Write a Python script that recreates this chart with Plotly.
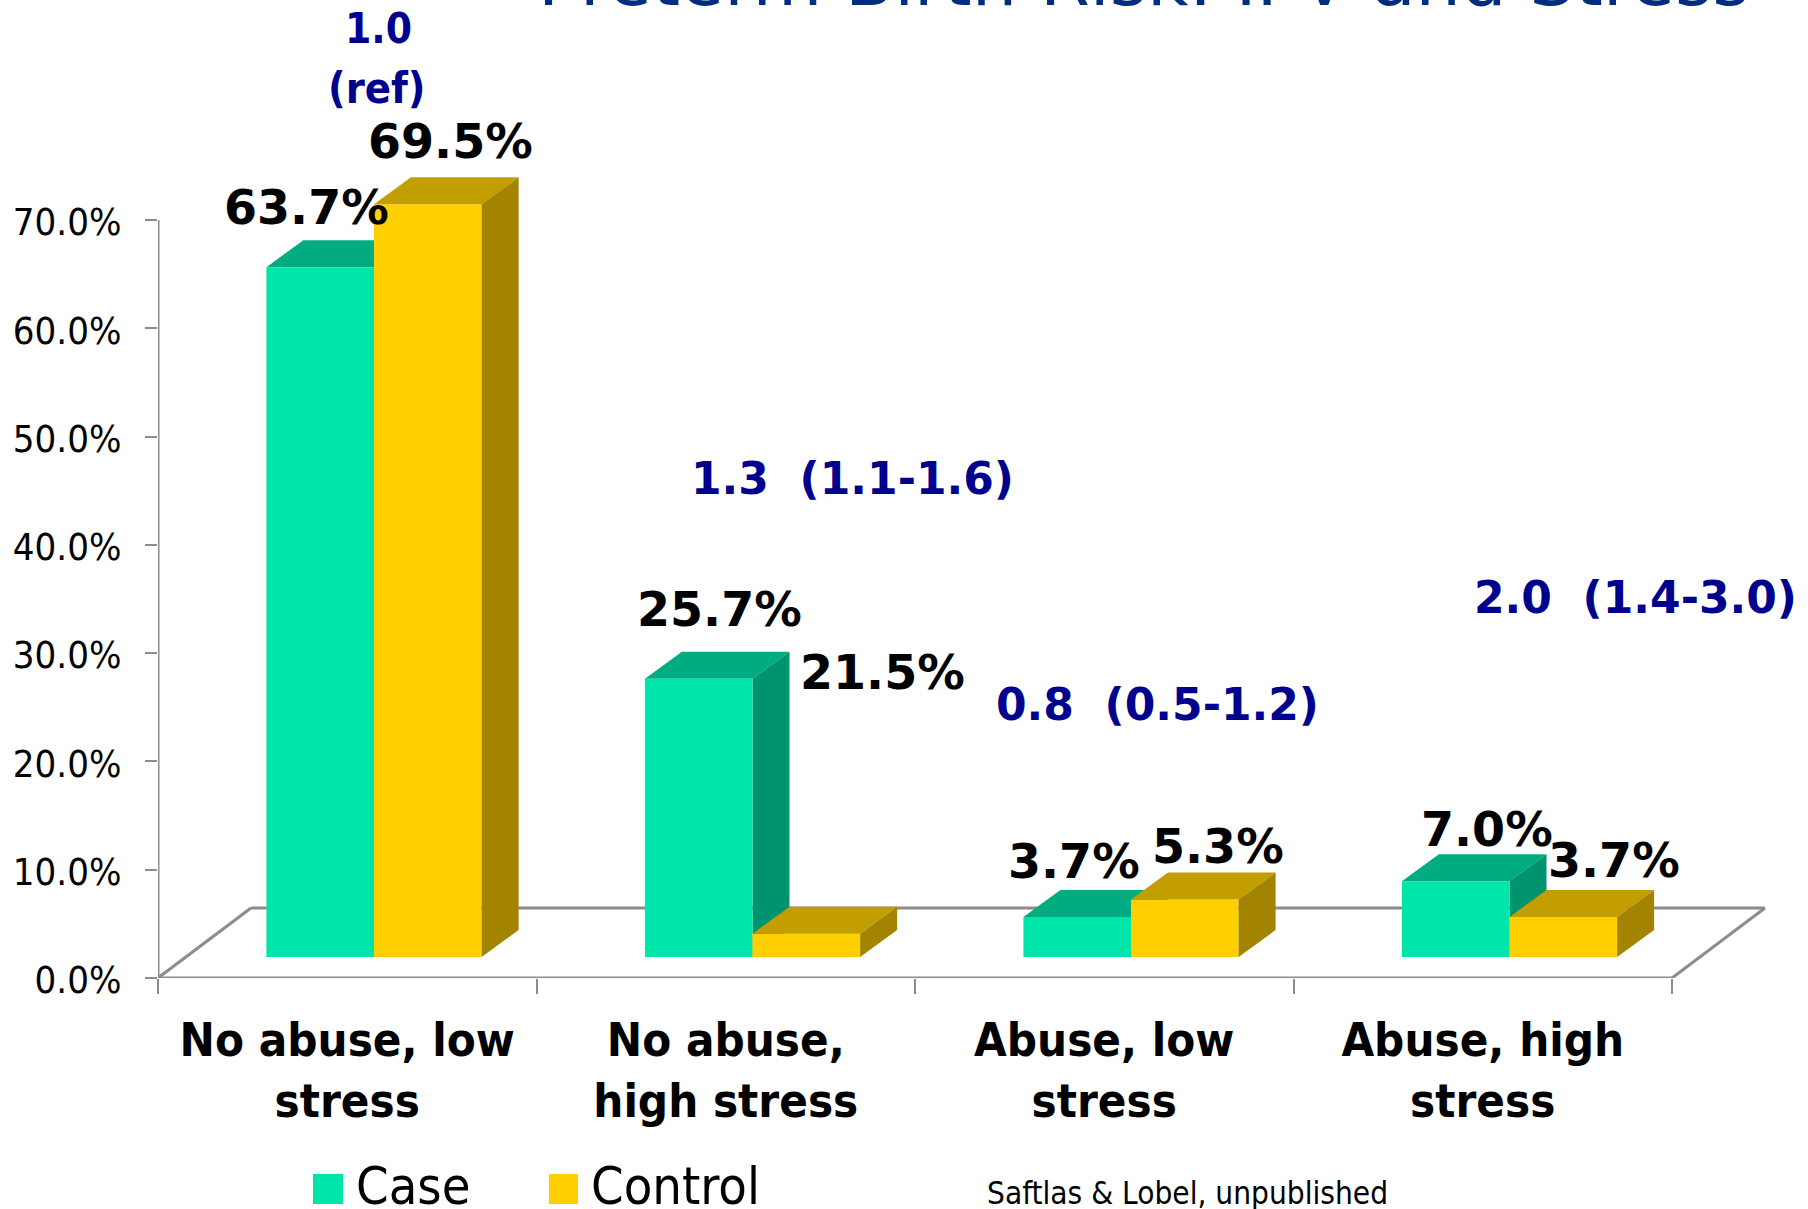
import plotly.graph_objects as go

# ---- data ----
categories = ["<b>No abuse, low</b><br><b>stress</b>", "<b>No abuse,</b><br><b>high stress</b>",
              "<b>Abuse, low</b><br><b>stress</b>", "<b>Abuse, high</b><br><b>stress</b>"]
case_values = [63.7, 25.7, 3.7, 7.0]
control_values = [69.5, 2.15, 5.3, 3.7]
case_labels = ["63.7%", "25.7%", "3.7%", "7.0%"]
control_labels = ["69.5%", "21.5%", "5.3%", "3.7%"]
risk_labels = ["1.0", "(ref)", "1.3  (1.1-1.6)", "0.8  (0.5-1.2)", "2.0  (1.4-3.0)"]
y_ticks = [0, 10, 20, 30, 40, 50, 60, 70]
y_ticktext = ["0.0%", "10.0%", "20.0%", "30.0%", "40.0%", "50.0%", "60.0%", "70.0%"]
title_text = "Preterm Birth Risk: IPV and Stress"
source_text = "Saftlas &amp; Lobel, unpublished"

# ---- geometry of the drawing (pixels of the page) ----
W, H = 1808, 1209
X0, Y0 = 158, 978          # origin of the axes on the page
PX_PER_CAT = 378.5         # one category along x
PX_PER_PCT = 10.83         # one percent along y


def px(p):
    return (p - X0) / (W - X0)


def py(p):
    return (Y0 - p) / Y0


BAR_W = 107.6 / PX_PER_CAT
CASE_OFF = (266.4 - X0) / PX_PER_CAT
CTRL_OFF = CASE_OFF + BAR_W
BASE = 21 / PX_PER_PCT      # bars stand on the floor, in front of the back wall
DEPTH_X = 37 / PX_PER_CAT
DEPTH_Y = 27 / PX_PER_PCT
FLOOR_X = 93 / PX_PER_CAT
FLOOR_Y = 70 / PX_PER_PCT

CASE_FRONT, CASE_TOP, CASE_SIDE = "#00E6AA", "#00AC80", "#00946E"
CTRL_FRONT, CTRL_TOP, CTRL_SIDE = "#FFCF00", "#C29E00", "#A38400"
GRAY = "#8C8C8C"
BLUE = "#00008F"
TITLE_BLUE = "#002D7F"
FONT = "DejaVu Sans"
COND = "DejaVu Sans Condensed"

fig = go.Figure()
pos = list(range(len(categories)))
fig.add_trace(go.Bar(name="Case", x=[i + CASE_OFF + BAR_W / 2 for i in pos], y=case_values,
                     base=BASE, width=BAR_W, marker=dict(color=CASE_FRONT, line=dict(width=0)), showlegend=False))
fig.add_trace(go.Bar(name="Control", x=[i + CTRL_OFF + BAR_W / 2 for i in pos], y=control_values,
                     base=BASE, width=BAR_W, marker=dict(color=CTRL_FRONT, line=dict(width=0)), showlegend=False))


def poly(points, color, layer):
    path = "M " + " L ".join(f"{x:.5f},{y:.5f}" for x, y in points) + " Z"
    return dict(type="path", path=path, xref="x", yref="y", fillcolor=color,
                line=dict(width=0), layer=layer)


shapes = []
line = dict(color=GRAY, width=3)
# floor outline and axis lines
floor = [(0, 0), (FLOOR_X, FLOOR_Y), (4 + FLOOR_X, FLOOR_Y), (4, 0)]
for (a, b) in zip(floor[:-1], floor[1:]):
    shapes.append(dict(type="line", xref="x", yref="y", x0=a[0], y0=a[1], x1=b[0], y1=b[1], line=line, layer="below"))
shapes.append(dict(type="line", xref="x", yref="y", x0=0, y0=0, x1=4, y1=0, line=line, layer="below"))
shapes.append(dict(type="line", xref="x", yref="y", x0=0, y0=0, x1=0, y1=70, line=line, layer="below"))


def box_faces(left, value, top_color, side_color, layer):
    top = BASE + value
    right = left + BAR_W
    return [
        poly([(left, top), (left + DEPTH_X, top + DEPTH_Y), (right + DEPTH_X, top + DEPTH_Y), (right, top)], top_color, layer),
        poly([(right, BASE), (right + DEPTH_X, BASE + DEPTH_Y), (right + DEPTH_X, top + DEPTH_Y), (right, top)], side_color, layer),
    ]


for i, v in zip(pos, case_values):
    shapes += box_faces(i + CASE_OFF, v, CASE_TOP, CASE_SIDE, "below")
for i, v in zip(pos, control_values):
    shapes += box_faces(i + CTRL_OFF, v, CTRL_TOP, CTRL_SIDE, "above")

# legend squares
for left, right, color in [(313, 343, CASE_FRONT), (549, 578, CTRL_FRONT)]:
    shapes.append(dict(type="rect", xref="paper", yref="paper", x0=px(left), x1=px(right), y0=py(1204), y1=py(1174),
                       fillcolor=color, line=dict(width=0), layer="above"))

S = 1808 / 1568
annotations = []


def note(text, cx, cy, size, color="black", family=FONT, bold=False, anchor="center"):
    annotations.append(dict(text=f"<b>{text}</b>" if bold else text, x=px(cx), y=py(cy), xref="paper", yref="paper",
                            xanchor=anchor, yanchor="middle", showarrow=False,
                            font=dict(size=size, color=color, family=family)))


case_pos = [(266, 180), (624, 529), (931, 747), (1290, 719)]
ctrl_pos = [(391, 123), (765, 583), (1056, 734), (1400, 746)]
for t, (a, b) in zip(case_labels, case_pos):
    note(t, a * S, b * S, 47.5, bold=True)
for t, (a, b) in zip(control_labels, ctrl_pos):
    note(t, a * S, b * S, 47.5, bold=True)

risk_pos = [(328, 25), (327, 76), (739, 415), (1004, 611), (1418, 518)]
risk_sizes = [42, 43, 44, 44, 44]
risk_fonts = [COND, COND, FONT, FONT, FONT]
for t, (a, b), s, f in zip(risk_labels, risk_pos, risk_sizes, risk_fonts):
    note(t, a * S, b * S, s, color=BLUE, family=f, bold=True)

note(title_text, 1144, -20, 71.7, color=TITLE_BLUE)
note("Case", 354, 1186, 52, family=COND, anchor="left")
note("Control", 589, 1186, 52, family=COND, anchor="left")
note(source_text, 1030 * S, 1035 * S, 31.3, family=COND)

fig.update_layout(
    width=W, height=H, autosize=False,
    margin=dict(l=X0, r=0, t=0, b=H - Y0, pad=0),
    paper_bgcolor="white", plot_bgcolor="white",
    barmode="overlay", showlegend=False,
    shapes=shapes, annotations=annotations,
    xaxis=dict(range=[0, (W - X0) / PX_PER_CAT], showgrid=False, zeroline=False, showline=False,
               tickmode="array", tickvals=[i + 0.5 for i in pos], ticktext=categories, ticks="",
               tickfont=dict(family=COND, size=47, color="black"), tickangle=0,
               ticklabelstandoff=30,
               minor=dict(ticks="outside", tickmode="array", tickvals=[0, 1, 2, 3, 4],
                          ticklen=15, tickwidth=2, tickcolor=GRAY, showgrid=False)),
    yaxis=dict(range=[0, Y0 / PX_PER_PCT], showgrid=False, zeroline=False, showline=False,
               tickmode="array", tickvals=y_ticks, ticktext=y_ticktext, ticks="outside",
               ticklen=12, tickwidth=2, tickcolor=GRAY, ticklabelstandoff=16, ticklabelshift=2,
               tickfont=dict(family=COND, size=38, color="black")),
    font=dict(family=FONT),
)

fig.write_html("out.html", config=dict(displayModeBar=False),
               post_script="document.body.style.margin='0';document.body.style.overflow='hidden';")
